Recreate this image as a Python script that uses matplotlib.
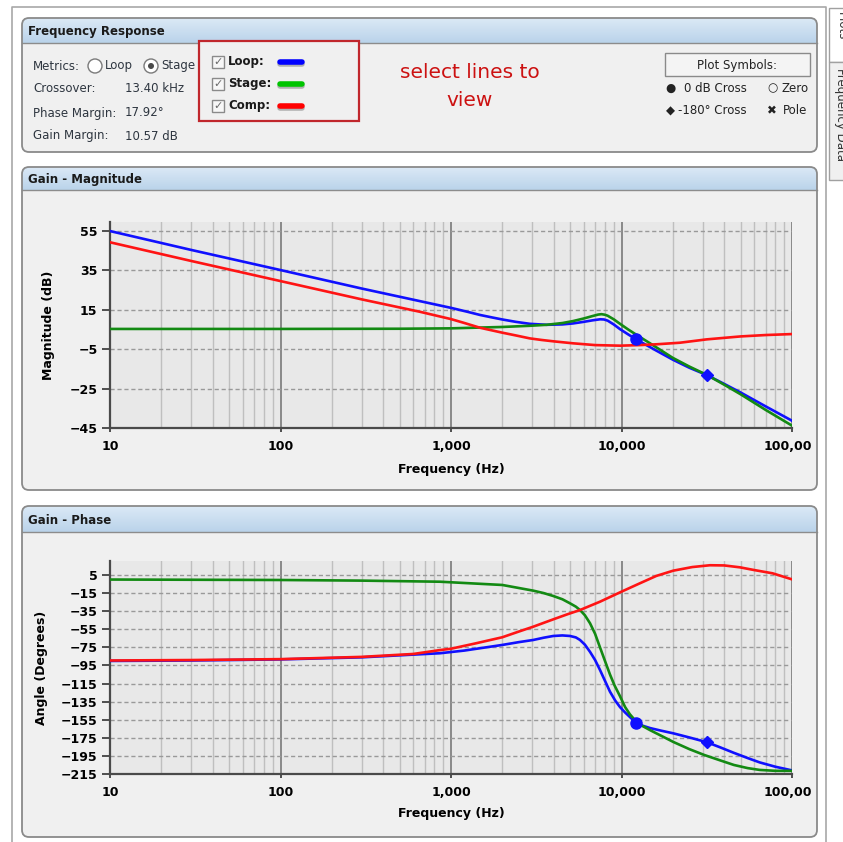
import numpy as np
import matplotlib.pyplot as plt
from matplotlib.patches import FancyBboxPatch, Rectangle, Circle
from matplotlib.colors import LinearSegmentedColormap
from matplotlib.ticker import FixedLocator, LogLocator, NullFormatter
from matplotlib.transforms import Bbox, TransformedBbox

# ---- data ----
loop_mag_f = [10, 30, 100, 300, 1000, 1250, 1480, 1750, 2000, 2400, 2900, 3640, 4500, 5200,
              6000, 6800, 7500, 7900, 8300, 9000, 9800, 11000, 12200, 14000, 16000, 20100,
              25000, 31600, 40000, 50000, 70000, 100000]
loop_mag = [55.0, 45.4, 35.2, 25.8, 16.0, 14.0, 12.4, 11.1, 10.1, 8.9, 7.9, 7.4, 7.6, 8.1,
            8.9, 9.7, 10.2, 10.1, 9.5, 7.6, 5.2, 2.4, 0.0, -2.9, -5.7, -10.4,
            -14.4, -18.1, -22.6, -27.0, -34.0, -41.3]

stage_mag_f = [10, 100, 500, 1000, 1480, 2000, 2900, 3640, 4500, 5200, 6000, 6800, 7300,
               7630, 8000, 8300, 9000, 9800, 11000, 12300, 14700, 17000, 20000, 25000,
               31600, 40000, 50000, 70000, 100000]
stage_mag = [5.3, 5.3, 5.4, 5.6, 6.0, 6.3, 6.9, 7.4, 8.3, 9.3, 10.6, 11.9, 12.6,
             12.8, 12.5, 12.0, 10.2, 7.9, 4.9, 2.2, -2.0, -5.5, -9.4, -13.8,
             -18.0, -23.0, -27.9, -35.8, -43.8]

comp_mag_f = [10, 30, 100, 300, 658, 1000, 1200, 1480, 2000, 2400, 2900, 3400, 4000, 5200,
              7000, 9800, 12800, 16000, 22000, 31600, 50000, 70000, 100000]
comp_mag = [49.3, 39.8, 29.6, 20.3, 14.0, 10.3, 8.3, 5.9, 3.4, 2.0, 0.5, -0.3, -1.0, -2.0,
            -2.9, -3.2, -2.9, -2.5, -1.7, 0.0, 1.5, 2.2, 2.7]

loop_ph_f = [10, 30, 100, 300, 600, 861, 1200, 2000, 2500, 3040, 3500, 3980, 4500, 4990,
             5400, 5710, 6100, 6540, 7000, 7480, 8000, 8560, 9200, 9800, 10500, 11200,
             12200, 13300, 14700, 17000, 20100, 25000, 31600, 38000, 45600, 55000, 64700,
             80000, 100000]
loop_ph = [-90, -89.5, -88.3, -86, -83, -81.5, -78.5, -72.3, -69.2, -66.8, -64.3, -62.4, -61.8,
           -62.4, -64, -66.8, -72, -80, -89, -100, -112, -124, -134, -141, -147, -152,
           -158.5, -161.6, -164.2, -167, -170, -174.6, -179.8, -185.6, -191.6, -197.4, -202.2,
           -207, -211]

stage_ph_f = [10, 100, 300, 861, 2000, 3040, 3500, 3980, 4500, 4990, 5400, 5710, 6100, 6540,
              7000, 7480, 8000, 8560, 9100, 9800, 10500, 11200, 12200, 13300, 14700, 17000,
              20100, 25000, 30600, 38000, 45600, 55000, 64700, 80000, 100000]
stage_ph = [0, -0.5, -1.2, -2.4, -6, -12.3, -15, -18.2, -21.8, -26.3, -30, -33.7, -39.5, -48.4,
            -60, -75, -90, -105, -117, -129, -141, -149, -157, -162, -166.5, -172.5,
            -179.5, -187.5, -194, -200, -205, -208.5, -210.5, -211.5, -211.5]

comp_ph_f = [10, 30, 100, 300, 600, 861, 1000, 1400, 2000, 2500, 3040, 3980, 4800, 5710, 7480,
             10000, 12800, 16000, 20100, 26000, 33000, 40000, 49500, 60000, 76900, 100000]
comp_ph = [-89.5, -89, -88, -85.5, -82.3, -78, -76.5, -70.5, -63.8, -57.5, -52.1, -44, -38.5,
           -33.7, -24.5, -13.4, -4.2, 4, 9.8, 13.8, 15.8, 15.6, 13.5, 10.5, 6.9, 0.2]

# plot symbols: 0 dB cross and -180 deg cross on the loop curve
cross_f, cross_mag, cross_ph = 12200, 0.0, -158.5
m180_f, m180_mag, m180_ph = 31600, -18.1, -179.8

x_ticks = [10, 100, 1000, 10000, 100000]
x_labels = ['10', '100', '1,000', '10,000', '100,000']
mag_ticks = [55, 35, 15, -5, -25, -45]
ph_ticks = [5, -15, -35, -55, -75, -95, -115, -135, -155, -175, -195, -215]

BLUE, GREEN, RED = '#1010ff', '#138a13', '#ff1414'

plt.rcParams['font.family'] = 'DejaVu Sans'
W, H = 843, 842
fig = plt.figure(figsize=(W / 100, H / 100), dpi=100)

# background layer in pixel coordinates
bg = fig.add_axes([0, 0, 1, 1])
bg.set_xlim(0, W)
bg.set_ylim(H, 0)
bg.axis('off')

hdr_cmap = LinearSegmentedColormap.from_list('hdr', ['#dbe9f6', '#bad3ea'])


def panel(x0, y0, x1, y1, hdr, title):
    box = FancyBboxPatch((x0, y0), x1 - x0, y1 - y0, boxstyle='round,pad=0,rounding_size=7',
                         fc='#f0f0f0', ec='none', zorder=1)
    bg.add_patch(box)
    im = bg.imshow(np.linspace(0, 1, 40).reshape(-1, 1), extent=(x0, x1, hdr, y0),
                   cmap=hdr_cmap, aspect='auto', zorder=2)
    im.set_clip_path(box)
    bg.plot([x0, x1], [hdr, hdr], color='#8c8c8c', lw=1, zorder=3)
    bg.add_patch(FancyBboxPatch((x0, y0), x1 - x0, y1 - y0, boxstyle='round,pad=0,rounding_size=7',
                                fc='none', ec='#8a8a8a', lw=1.3, zorder=4))
    bg.text(x0 + 6, (y0 + hdr) / 2 + 1, title, fontsize=8.5, fontweight='bold',
            color='#1a1a1a', va='center', zorder=5)


# outer window frame and side tabs
bg.plot([12, 12, 826, 826], [H, 7, 7, H], color='#a8a8a8', lw=1.2, zorder=1)
bg.add_patch(Rectangle((829, 8), 20, 54, fc='white', ec='#a0a0a0', lw=1, zorder=1))
bg.add_patch(Rectangle((829, 62), 20, 118, fc='#f0f0f0', ec='#a0a0a0', lw=1, zorder=1))
bg.text(841, 12, 'Plots', rotation=-90, fontsize=8.5, va='top', ha='center', color='#333333')
bg.text(840, 68, 'Frequency Data', rotation=-90, fontsize=8.5, va='top', ha='center', color='#333333')

panel(22, 18, 817, 152, 43, 'Frequency Response')
panel(22, 167, 817, 490, 190, 'Gain - Magnitude')
panel(22, 506, 817, 837, 532, 'Gain - Phase')

# ---- top panel content ----
txt = dict(fontsize=8.5, color='#2e3640', va='center', zorder=6)
bg.text(33, 66, 'Metrics:', **txt)
bg.add_patch(Circle((95, 66), 7, fc='white', ec='#7a7a7a', lw=1, zorder=6))
bg.text(105, 66, 'Loop', **txt)
bg.add_patch(Circle((151, 66), 7, fc='white', ec='#7a7a7a', lw=1, zorder=6))
bg.add_patch(Circle((151, 66), 3, fc='#4a4a4a', ec='none', zorder=7))
bg.text(161, 66, 'Stage', **txt)
bg.text(33, 89, 'Crossover:', **txt)
bg.text(125, 89, '13.40 kHz', **txt)
bg.text(33, 113, 'Phase Margin:', **txt)
bg.text(125, 113, '17.92°', **txt)
bg.text(33, 136, 'Gain Margin:', **txt)
bg.text(125, 136, '10.57 dB', **txt)

# line selector box
bg.add_patch(Rectangle((199, 41), 160, 80, fc='#f0f0f0', ec='#c0262c', lw=1.6, zorder=8))
for yy, name, col in [(62, 'Loop:', '#0000ff'), (84, 'Stage:', '#00c400'), (106, 'Comp:', '#ff0000')]:
    bg.add_patch(Rectangle((212, yy - 6), 12, 12, fc='#f7f7f7', ec='#8a8a8a', lw=1, zorder=9))
    bg.text(218, yy, '✓', fontsize=8, color='#6a6a6a', ha='center', va='center', zorder=10)
    bg.text(228, yy, name, fontsize=8.5, fontweight='bold', color='#1a1a1a', va='center', zorder=9)
    bg.plot([280, 302], [yy + 1.5, yy + 1.5], color='#b0b0b0', lw=4, solid_capstyle='round', zorder=9)
    bg.plot([280, 302], [yy, yy], color=col, lw=4, solid_capstyle='round', zorder=10)

bg.text(470, 72, 'select lines to', fontsize=14.5, color='#cc1111', ha='center', va='center', zorder=6)
bg.text(470, 100, 'view', fontsize=14.5, color='#cc1111', ha='center', va='center', zorder=6)

# plot symbols box
bg.add_patch(Rectangle((665, 53), 145, 23, fc='#f4f4f4', ec='#8a8a8a', lw=1, zorder=6))
bg.text(737, 65, 'Plot Symbols:', fontsize=8.5, color='#222222', ha='center', va='center', zorder=7)
sym = dict(fontsize=8.5, color='#222222', va='center', zorder=7)
bg.text(670, 88, '●', ha='center', **sym)
bg.text(684, 88, '0 dB Cross', **sym)
bg.text(772, 88, '○', ha='center', **sym)
bg.text(782, 88, 'Zero', **sym)
bg.text(670, 111, '◆', ha='center', **sym)
bg.text(678, 111, '-180° Cross', **sym)
bg.text(772, 111, '✖', ha='center', **sym)
bg.text(783, 111, 'Pole', **sym)

label_clip = TransformedBbox(Bbox([[0, 0], [812 / W, 1]]), fig.transFigure)


def style_axes(ax, yticks, ylim, ylabel, ylab_x, xlab_y):
    ax.set_facecolor('#e8e8e8')
    ax.set_xscale('log')
    ax.set_xlim(10, 100000)
    ax.set_ylim(*ylim)
    ax.xaxis.set_major_locator(FixedLocator(x_ticks))
    ax.set_xticklabels(x_labels)
    ax.xaxis.set_minor_locator(LogLocator(base=10, subs=np.arange(2, 10)))
    ax.xaxis.set_minor_formatter(NullFormatter())
    ax.set_yticks(yticks)
    ax.grid(True, which='major', axis='x', color='#6f6f6f', lw=1.1)
    ax.grid(True, which='minor', axis='x', color='#bfbfbf', lw=1.0)
    ax.grid(True, which='major', axis='y', color='#999999', lw=1.0, ls=(0, (3, 2)))
    for s in ['top', 'right']:
        ax.spines[s].set_visible(False)
    for s in ['left', 'bottom']:
        ax.spines[s].set_color('#4a4a4a')
        ax.spines[s].set_linewidth(1.6)
    ax.tick_params(axis='y', which='major', length=6, width=1.2, color='#333333', pad=3,
                   labelsize=9)
    ax.tick_params(axis='x', which='major', length=3, width=1.2, color='#333333', pad=6,
                   labelsize=9)
    ax.tick_params(axis='x', which='minor', length=0)
    for lab in ax.get_xticklabels() + ax.get_yticklabels():
        lab.set_fontweight('bold')
    for lab in ax.get_xticklabels():
        lab.set_clip_on(True)
        lab.set_clip_box(label_clip)
    ax.set_ylabel(ylabel, fontsize=9, fontweight='bold')
    ax.yaxis.set_label_coords(ylab_x, 0.5)
    ax.set_xlabel('Frequency (Hz)', fontsize=9, fontweight='bold')
    ax.xaxis.set_label_coords(0.5, xlab_y)


# ---- magnitude ----
ax1 = fig.add_axes([110 / W, 1 - 428 / H, 682 / W, 206 / H])
ax1.plot(loop_mag_f, loop_mag, color=BLUE, lw=1.9, zorder=3)
ax1.plot(stage_mag_f, stage_mag, color=GREEN, lw=1.9, zorder=4)
ax1.plot(comp_mag_f, comp_mag, color=RED, lw=1.9, zorder=5)
ax1.plot([cross_f], [cross_mag], 'o', color=BLUE, ms=8, zorder=6)
ax1.plot([m180_f], [m180_mag], 'D', color=BLUE, ms=6.5, zorder=6)
style_axes(ax1, mag_ticks, (-45, 59.6), 'Magnitude (dB)', -0.081, -0.17)

# ---- phase ----
ax2 = fig.add_axes([110 / W, 1 - 774 / H, 682 / W, 213 / H])
ax2.plot(loop_ph_f, loop_ph, color=BLUE, lw=1.9, zorder=3)
ax2.plot(stage_ph_f, stage_ph, color=GREEN, lw=1.9, zorder=4)
ax2.plot(comp_ph_f, comp_ph, color=RED, lw=1.9, zorder=5)
ax2.plot([cross_f], [cross_ph], 'o', color=BLUE, ms=8, zorder=6)
ax2.plot([m180_f], [m180_ph], 'D', color=BLUE, ms=6.5, zorder=6)
style_axes(ax2, ph_ticks, (-215, 20.5), 'Angle (Degrees)', -0.091, -0.155)

fig.savefig('out.png', dpi=100)
